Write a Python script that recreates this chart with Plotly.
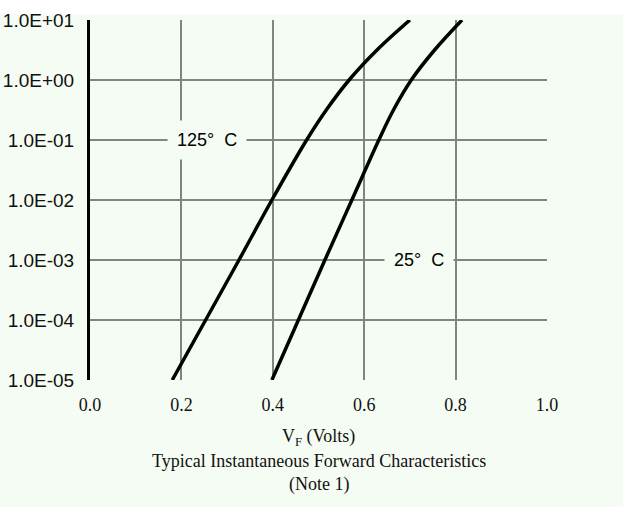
import plotly.graph_objects as go

# Forward current (A) levels and read-off forward voltages (V)
if_125c = [1e-5, 1e-4, 1e-3, 1e-2, 1e-1, 10**-0.5, 1e0, 10**0.5, 1e1]
vf_125c = [0.180, 0.253, 0.326, 0.398, 0.474, 0.517, 0.567, 0.628, 0.700]
if_25c = [1e-5, 1e-4, 1e-3, 1e-2, 1e-1, 10**-0.5, 1e0, 10**0.5, 1e1]
vf_25c = [0.398, 0.456, 0.514, 0.573, 0.632, 0.664, 0.703, 0.754, 0.814]

y_tickvals = [1e-5, 1e-4, 1e-3, 1e-2, 1e-1, 1e0, 1e1]
y_ticktext = ["1.0E-05", "1.0E-04", "1.0E-03", "1.0E-02", "1.0E-01", "1.0E+00", "1.0E+01"]
x_tickvals = [0.0, 0.2, 0.4, 0.6, 0.8, 1.0]
x_ticktext = ["0.0", "0.2", "0.4", "0.6", "0.8", "1.0"]

label_125 = "125°  C"
label_25 = "25°  C"
x_title = "V<sub>F</sub> (Volts)"
caption = "Typical Instantaneous Forward Characteristics"
note = "(Note 1)"

BG = "#f5fcf3"
GRID = "#7d877b"

fig = go.Figure()
for vf, cur in ((vf_125c, if_125c), (vf_25c, if_25c)):
    fig.add_trace(go.Scatter(x=vf, y=cur, mode="lines",
                             line=dict(color="black", width=3.5, shape="spline", smoothing=1.0),
                             showlegend=False, hoverinfo="skip"))

fig.update_layout(
    width=627, height=507,
    margin=dict(l=90, r=80, t=20, b=127),
    paper_bgcolor=BG, plot_bgcolor=BG,
    showlegend=False,
    xaxis=dict(range=[0, 1], tickvals=x_tickvals, ticktext=x_ticktext,
               showgrid=True, gridcolor=GRID, gridwidth=2, automargin=False,
               zeroline=False, showline=False, ticks="",
               tickfont=dict(family="Liberation Serif", size=18, color="#111"),
               ticklabelstandoff=12),
    yaxis=dict(type="log", range=[-5, 1], tickvals=y_tickvals, ticktext=y_ticktext,
               showgrid=True, gridcolor=GRID, gridwidth=2, automargin=False,
               zeroline=False, showline=True, linecolor="black", linewidth=3,
               ticks="", tickfont=dict(family="Liberation Sans", size=19, color="#111"),
               ticklabelstandoff=9),
    shapes=[dict(type="rect", xref="paper", yref="paper", x0=-0.2, x1=1.2,
                 y0=1.016, y1=1.2, fillcolor="white", line=dict(width=0), layer="below"),
            dict(type="rect", xref="paper", yref="paper", x0=1.166, x1=1.2,
                 y0=-0.5, y1=1.2, fillcolor="white", line=dict(width=0), layer="below")],
    annotations=[
        dict(x=0.256, y=-1, xref="x", yref="y", text=label_125, showarrow=False,
             font=dict(family="Liberation Sans", size=18, color="black"),
             bgcolor=BG, borderpad=9),
        dict(x=0.72, y=-3, xref="x", yref="y", text=label_25, showarrow=False,
             font=dict(family="Liberation Sans", size=18, color="black"),
             bgcolor=BG, borderpad=9),
        dict(x=0.5, y=0, xref="paper", yref="paper", text=x_title, showarrow=False,
             yanchor="middle", yshift=-57,
             font=dict(family="Liberation Serif", size=18, color="#111")),
        dict(x=0.5, y=0, xref="paper", yref="paper", text=caption, showarrow=False,
             yanchor="middle", yshift=-81,
             font=dict(family="Liberation Serif", size=18, color="#111")),
        dict(x=0.5, y=0, xref="paper", yref="paper", text=note, showarrow=False,
             yanchor="middle", yshift=-104,
             font=dict(family="Liberation Serif", size=18, color="#111")),
    ],
)

fig.write_html("out.html", config={"displayModeBar": False},
               post_script="document.body.style.margin='0';")
